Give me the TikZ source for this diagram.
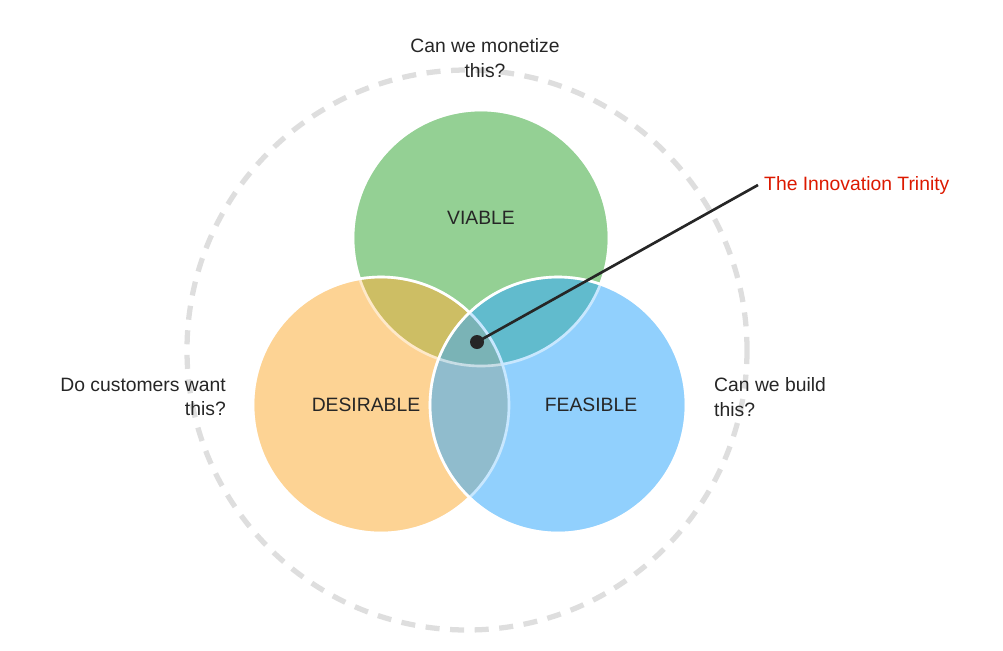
\documentclass[tikz,border=0pt]{standalone}
\usepackage{fontspec}
\setmainfont{Liberation Sans}
\begin{document}
\begin{tikzpicture}[x=0.02cm,y=-0.02cm,
    every node/.style={font=\fontsize{11}{14}\selectfont,text=black!85},
    circ/.style={draw=white,line width=1.5pt,fill opacity=0.55}]
          \useasboundingbox (0,0) rectangle (1003,650);
          \draw[black!13,line width=3pt,dash pattern=on 8pt off 6pt] (467,350) circle (280);
          \fill[circ,fill={rgb,255:red,60;green,170;blue,60}] (481,238) circle (128);
          \fill[circ,fill={rgb,255:red,252;green,175;blue,60}] (381,405) circle (128);
          \fill[circ,fill={rgb,255:red,55;green,170;blue,252}] (558,405) circle (128);
          \draw[white,line width=1.5pt,opacity=0.5] (481,238) circle (128) (381,405) circle (128) (558,405) circle (128);
          \node (viable) at (481,218) {VIABLE};
          \node (desirable) at (366,405) {DESIRABLE};
          \node (feasible) at (591,405) {FEASIBLE};
          \node[align=center] (money) at (485,58) {Can we monetize\\this?};
          \node[align=right,anchor=east] (want) at (232,397) {Do customers want\\this?};
          \node[align=left,anchor=west] (build) at (708,397) {Can we build\\this?};
          \node[text={rgb,255:red,220;green,25;blue,0},anchor=west] (trinity) at (758,185) {The Innovation Trinity};
          \fill[black!85] (477,342) circle (7) coordinate (dot);
          \draw[black!85,line width=1.5pt] (dot) -- (trinity.west);
\end{tikzpicture}
\end{document}
